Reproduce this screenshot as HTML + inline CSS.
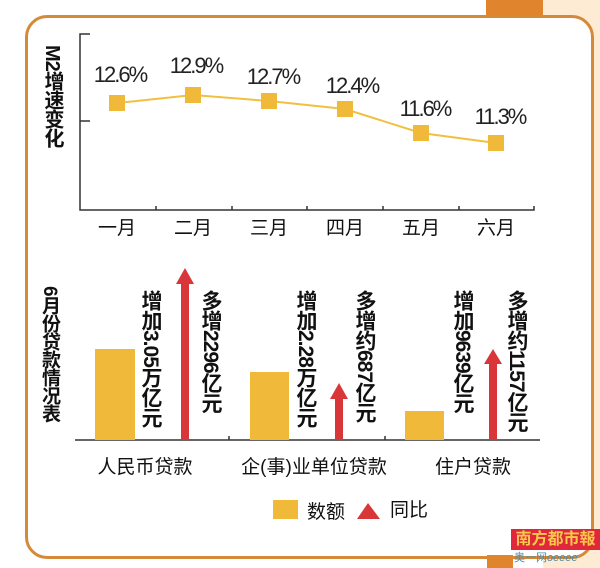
<!DOCTYPE html>
<html><head><meta charset="utf-8"><style>
body{margin:0;width:600px;height:568px;overflow:hidden;background:#fff;font-family:"Liberation Sans","Noto Sans CJK SC",sans-serif;position:relative}
.a{position:absolute}
.v{position:absolute;writing-mode:vertical-rl;font-size:21px;line-height:22px;color:#111;letter-spacing:-1px;font-weight:bold}
</style></head><body>
<div class="a" style="left:543px;top:0;width:57px;height:568px;background:#fdebd3"></div>
<div class="a" style="left:486px;top:0;width:57px;height:16px;background:#e0852d"></div>
<div class="a" style="left:25px;top:15px;width:563px;height:538px;border:3px solid #d48a3a;border-radius:22px;background:#fff"></div>
<div class="a" style="left:487px;top:555px;width:26px;height:13px;background:#e0852d"></div>
<svg class="a" style="left:0;top:0" width="600" height="568">
<g stroke="#333" stroke-width="1.5" fill="none">
<path d="M90 34 H80 V210 H534 V206"/>
<path d="M80 121 H90"/>
<path d="M156 210 V206 M232 210 V206 M307 210 V206 M383 210 V206 M459 210 V206"/>
<path d="M75 440 H540 M229 440 V436 M385 440 V436"/>
</g>
<polyline points="117,103 193,95 269,101 345,109 421,133 496,143" fill="none" stroke="#f0c040" stroke-width="2"/>
<g fill="#f0b93a">
<rect x="109" y="95" width="16" height="16"/><rect x="185" y="87" width="16" height="16"/><rect x="261" y="93" width="16" height="16"/><rect x="337" y="101" width="16" height="16"/><rect x="413" y="125" width="16" height="16"/><rect x="488" y="135" width="16" height="16"/>
<rect x="95" y="349" width="40" height="91"/><rect x="250" y="372" width="39" height="68"/><rect x="405" y="411" width="39" height="29"/>
<rect x="273" y="500" width="25" height="19"/>
</g>
<g fill="#d9363a">
<rect x="181" y="282" width="8" height="158"/><path d="M176 284 L185 268 L194 284Z"/>
<rect x="335" y="397" width="8" height="43"/><path d="M330 399 L339 383 L348 399Z"/>
<rect x="489" y="362" width="8" height="78"/><path d="M484 364 L493 349 L502 364Z"/>
<path d="M357 519 L368 503 L380 519Z"/>
</g>
<g font-size="22" fill="#222" text-anchor="middle" letter-spacing="-2">
<text x="120" y="82">12.6%</text><text x="196" y="73">12.9%</text><text x="273" y="84">12.7%</text><text x="352" y="93">12.4%</text><text x="425" y="116">11.6%</text><text x="500" y="124">11.3%</text>
</g>
<g font-size="19" fill="#111" text-anchor="middle">
<text x="117" y="234">一月</text><text x="193" y="234">二月</text><text x="269" y="234">三月</text><text x="345" y="234">四月</text><text x="421" y="234">五月</text><text x="496" y="234">六月</text>
<text x="145" y="473">人民币贷款</text><text x="314" y="473">企(事)业单位贷款</text><text x="473" y="473">住户贷款</text>
</g>
<text x="307" y="518" font-size="19" fill="#111">数额</text>
<text x="390" y="516" font-size="19" fill="#111">同比</text>
</svg>
<div class="v" style="left:41px;top:45px;font-size:20px">M2增速变化</div>
<div class="v" style="left:38px;top:286px;font-size:19px">6月份贷款情况表</div>
<div class="v" style="left:139px;top:290px">增加3.05万亿元</div>
<div class="v" style="left:199px;top:290px">多增2296亿元</div>
<div class="v" style="left:294px;top:290px">增加2.28万亿元</div>
<div class="v" style="left:353px;top:290px">多增约687亿元</div>
<div class="v" style="left:451px;top:290px">增加9639亿元</div>
<div class="v" style="left:505px;top:290px">多增约1157亿元</div>
<div class="a" style="left:511px;top:529px;width:89px;height:21px;background:#e0283a;color:#f7c94a;font-size:16px;line-height:21px;text-align:center;font-weight:bold">南方都市報</div>
<div class="a" style="left:514px;top:551px;font-size:11px;color:#4a8aa8;line-height:15px;white-space:nowrap">奥一网<i>oeeee</i></div>
</body></html>
